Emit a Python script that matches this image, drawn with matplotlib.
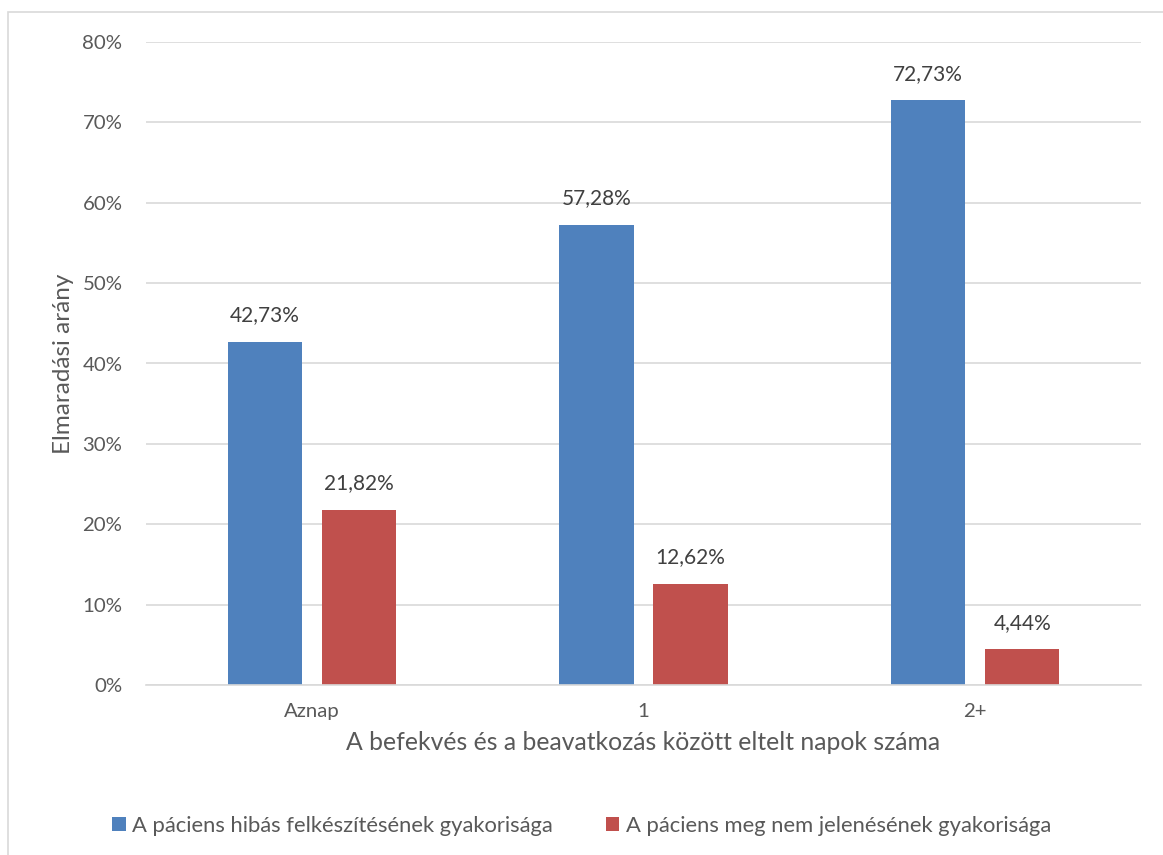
import matplotlib
matplotlib.use("Agg")
import matplotlib.pyplot as plt
from matplotlib.patches import Rectangle
import numpy as np

categories = ["Aznap", "1", "2+"]
felkeszites = [42.73, 57.28, 72.73]
megjelenes = [21.82, 12.62, 4.44]
series_names = ["A páciens hibás felkészítésének gyakorisága",
                "A páciens meg nem jelenésének gyakorisága"]
yticks = [0, 10, 20, 30, 40, 50, 60, 70, 80]

plt.rcParams["font.family"] = ["Lato", "DejaVu Sans"]
TEXT = "#595959"
BLUE = "#4F81BD"
RED = "#C0504D"

W, H = 1163, 855
fig = plt.figure(figsize=(W / 100, H / 100), dpi=100)

# chart area frame
fig.patches.append(Rectangle((8 / W, -0.1), 1.2, (H - 12) / H + 0.1,
                             transform=fig.transFigure, fill=False,
                             edgecolor="#D9D9D9", linewidth=1.2))

ax = fig.add_axes([146 / W, (H - 685) / H, (1141 - 146) / W, (685 - 42) / H])

x = np.arange(len(categories))
bw = 0.224
off = 0.142
b1 = ax.bar(x - off, felkeszites, bw, color=BLUE, label=series_names[0])
b2 = ax.bar(x + off, megjelenes, bw, color=RED, label=series_names[1])

for bars, vals in ((b1, felkeszites), (b2, megjelenes)):
    for rect, v in zip(bars, vals):
        ax.annotate(f"{v:.2f}%".replace(".", ","),
                    (rect.get_x() + rect.get_width() / 2, v),
                    xytext=(0, 12), textcoords="offset points",
                    ha="center", va="bottom", fontsize=15, color="#404040")

ax.set_xlim(-0.5, 2.5)
ax.set_ylim(0, 80)
ax.set_yticks(yticks)
ax.set_yticklabels([f"{t}%" for t in yticks])
ax.set_xticks(x)
ax.set_xticklabels(categories)
ax.tick_params(axis="both", length=0, labelsize=14.7, labelcolor=TEXT)
ax.tick_params(axis="y", pad=17)
ax.tick_params(axis="x", pad=13)
ax.grid(axis="y", color="#D9D9D9", linewidth=1.2)
ax.set_axisbelow(True)
for side in ("top", "right", "left"):
    ax.spines[side].set_visible(False)
ax.spines["bottom"].set_color("#D9D9D9")
ax.spines["bottom"].set_linewidth(1.2)

ax.set_xlabel("A befekvés és a beavatkozás között eltelt napok száma",
              fontsize=17.8, color=TEXT, labelpad=8)
ax.set_ylabel("Elmaradási arány", fontsize=17.5, color=TEXT, labelpad=6)

leg = fig.legend(handles=[b1, b2], loc="center", bbox_to_anchor=(0.5, (H - 826) / H),
                 ncol=2, frameon=False, fontsize=15.8, handlelength=0.62,
                 handleheight=0.62, handletextpad=0.3, columnspacing=2.4,
                 labelcolor=TEXT)

fig.savefig("out.png", dpi=100)
